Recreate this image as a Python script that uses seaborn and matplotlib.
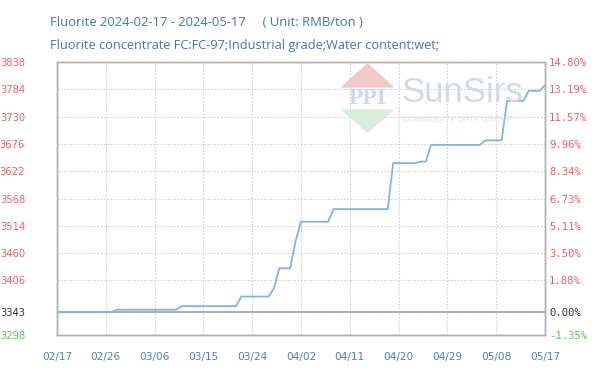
import matplotlib
matplotlib.use("Agg")
import matplotlib.pyplot as plt
import matplotlib.patches as mpatches
import seaborn as sns
import pandas as pd

# ---- data ----
dates = ["2024-02-17", "2024-02-27", "2024-02-28", "2024-03-10", "2024-03-11",
         "2024-03-21", "2024-03-22", "2024-03-27", "2024-03-28", "2024-03-29",
         "2024-03-31", "2024-04-01", "2024-04-02", "2024-04-07", "2024-04-08",
         "2024-04-18", "2024-04-19", "2024-04-23", "2024-04-24", "2024-04-25",
         "2024-04-26", "2024-05-05", "2024-05-06", "2024-05-09", "2024-05-10",
         "2024-05-13", "2024-05-14", "2024-05-16", "2024-05-17"]
prices = [3343, 3343, 3348, 3348, 3355,
          3355, 3374, 3374, 3390, 3430,
          3430, 3484, 3522, 3522, 3547,
          3547, 3638, 3638, 3641, 3641,
          3674, 3674, 3683, 3683, 3761,
          3761, 3781, 3781, 3792]

x_tick_dates = ["2024-02-17", "2024-02-26", "2024-03-06", "2024-03-15", "2024-03-24",
                "2024-04-02", "2024-04-11", "2024-04-20", "2024-04-29", "2024-05-08",
                "2024-05-17"]
x_tick_labels = ["02/17", "02/26", "03/06", "03/15", "03/24", "04/02", "04/11",
                 "04/20", "04/29", "05/08", "05/17"]
y_ticks = [3838, 3784, 3730, 3676, 3622, 3568, 3514, 3460, 3406, 3343, 3298]
pct_labels = ["14.80%", "13.19%", "11.57%", "9.96%", "8.34%", "6.73%", "5.11%",
              "3.50%", "1.88%", "0.00%", "-1.35%"]
base_price = 3343

title1 = "Fluorite 2024-02-17 - 2024-05-17     ( Unit: RMB/ton )"
title2 = "Fluorite concentrate FC:FC-97;Industrial grade;Water content:wet;"

df = pd.DataFrame({"date": pd.to_datetime(dates), "price": prices})

sns.set_style("white")
plt.rcParams["font.family"] = ["DejaVu Sans"]

fig = plt.figure(figsize=(6.0, 3.69), dpi=100)
ax = fig.add_axes([57/600, 1-335/369, (545-57)/600, (335-62)/369])

# grid
for d in pd.to_datetime(x_tick_dates):
    ax.axvline(d, color="#cfcfcf", lw=0.8, ls=(0, (1.5, 1.5)), zorder=0)
for v in y_ticks:
    ax.axhline(v, color="#cfcfcf", lw=0.8, ls=(0, (1.5, 1.5)), zorder=0)
ax.axhline(base_price, color="#a8a8a8", lw=1.3, zorder=1)

# watermark
wm = dict(transform=fig.transFigure, zorder=0.5)
ax.add_patch(mpatches.Polygon([[342/600, 1-87/369], [393/600, 1-87/369], [367.5/600, 1-64/369]],
                              closed=True, color="#f2c4c4", alpha=0.9, **wm))
ax.add_patch(mpatches.Polygon([[342/600, 1-110/369], [393/600, 1-110/369], [367.5/600, 1-132/369]],
                              closed=True, color="#d6ecd6", alpha=0.9, **wm))
fig.text(367.5/600, 1-98/369, "PPI", ha="center", va="center", fontsize=17,
         fontweight="bold", color="#cfd8e6", family="Liberation Serif", zorder=0.5)
fig.text(401/600, 1-92/369, "SunSirs", ha="left", va="center", fontsize=25,
         color="#d3dae3", family="Liberation Sans", zorder=0.5)
fig.text(402/600, 1-119/369, "COMMODITY DATA GROUP", ha="left", va="center", fontsize=6.2,
         color="#dde3ea", family="Liberation Sans", zorder=0.5)

sns.lineplot(data=df, x="date", y="price", ax=ax, color="#80b4e2", lw=1.3, zorder=3)

ax.set_xlim(pd.Timestamp("2024-02-17"), pd.Timestamp("2024-05-17"))
ax.set_ylim(3298, 3838)
ax.set_xticks(pd.to_datetime(x_tick_dates))
ax.set_xticklabels(x_tick_labels)
ax.set_yticks(y_ticks)
ax.set_yticklabels([str(v) for v in y_ticks])
ax.set_xlabel("")
ax.set_ylabel("")
ax.tick_params(axis="x", length=0, pad=12, labelsize=7.6, labelcolor="#4a7fb5")
ax.tick_params(axis="y", length=0, pad=23, labelsize=7.2)

def tick_color(i, n):
    if i == n - 1:
        return "#5cc45c"
    if i == n - 2:
        return "#333333"
    return "#ee5f5f"

for i, lab in enumerate(ax.get_yticklabels()):
    lab.set_color(tick_color(i, len(y_ticks)))

ax2 = ax.twinx()
ax2.set_ylim(3298, 3838)
ax2.set_yticks(y_ticks)
ax2.set_yticklabels(pct_labels, family="DejaVu Sans Mono")
ax2.tick_params(axis="y", length=0, pad=3, labelsize=7.6)
for i, lab in enumerate(ax2.get_yticklabels()):
    lab.set_color(tick_color(i, len(y_ticks)))

for a in (ax, ax2):
    for s in a.spines.values():
        s.set_color("#b0b0b0")
        s.set_linewidth(1.0)

fig.text(50/600, 1-22/369, title1, ha="left", va="center", fontsize=9.4,
         color="#4277ad", family="Open Sans")
fig.text(50/600, 1-46/369, title2, ha="left", va="center", fontsize=9.2,
         color="#4277ad", family="Open Sans")

fig.savefig("out.png", dpi=100)
